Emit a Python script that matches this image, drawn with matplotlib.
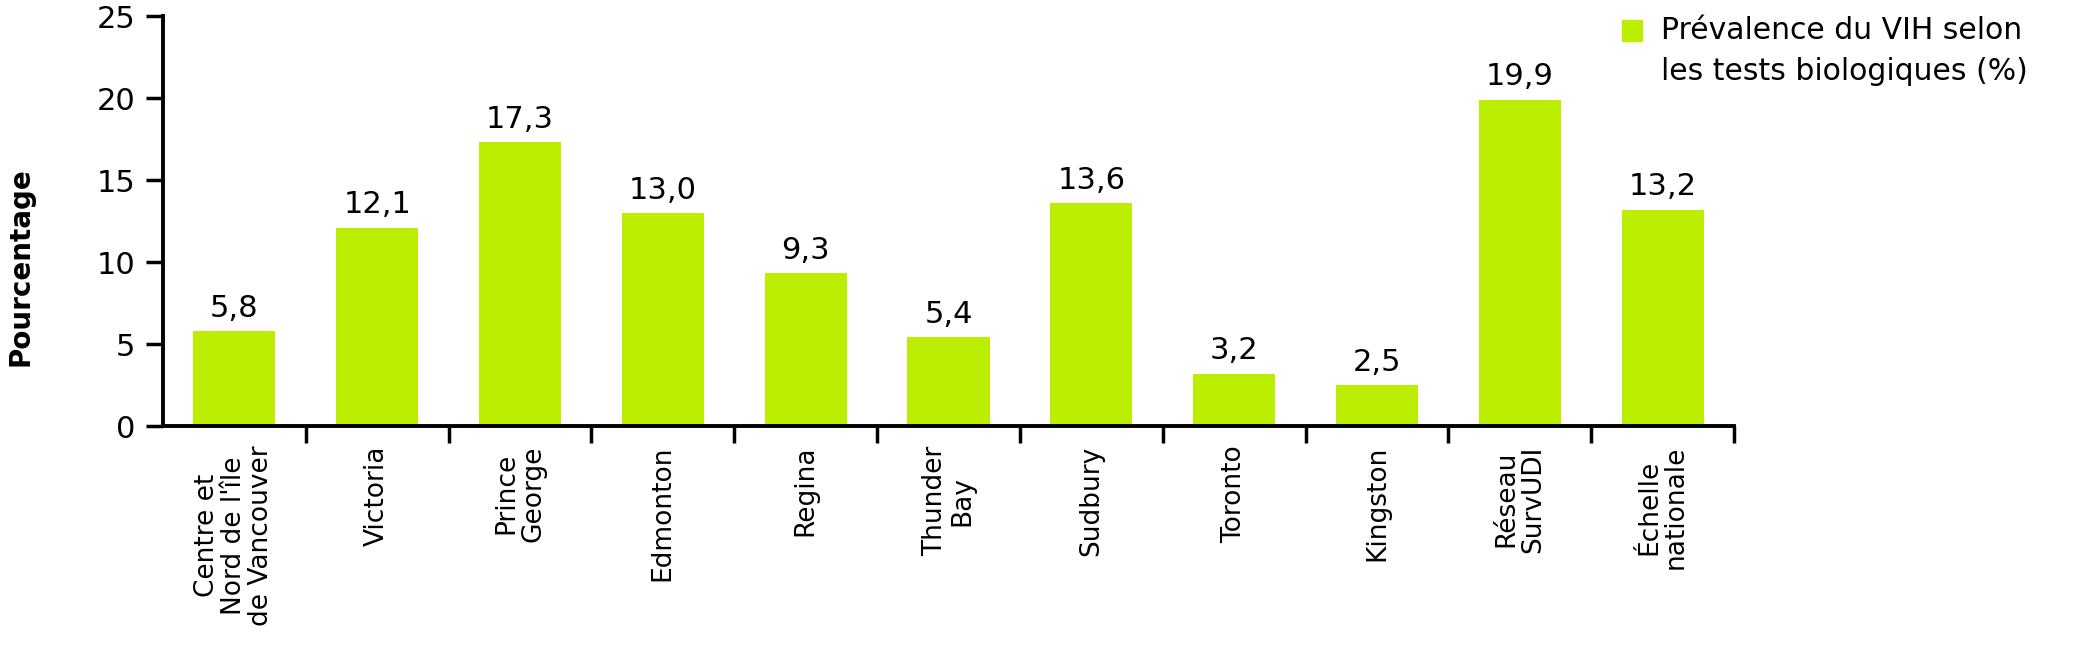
import matplotlib
matplotlib.use("Agg")
import matplotlib.pyplot as plt
from matplotlib.patches import Rectangle
import numpy as np

# data
sites = ["Centre et\nNord de l'île\nde Vancouver", "Victoria", "Prince\nGeorge",
         "Edmonton", "Regina", "Thunder\nBay", "Sudbury", "Toronto",
         "Kingston", "Réseau\nSurvUDI", "Échelle\nnationale"]
prevalence = [5.8, 12.1, 17.3, 13.0, 9.3, 5.4, 13.6, 3.2, 2.5, 19.9, 13.2]
yticks = [0, 5, 10, 15, 20, 25]
series_label = "Prévalence du VIH selon\nles tests biologiques (%)"
bar_color = '#BBEE00'

plt.rcParams['font.family'] = ['DejaVu Sans']

W, H = 2096, 650
fig = plt.figure(figsize=(W / 100, H / 100), dpi=100)
ax = fig.add_axes([163 / W, 1 - 426 / H, (1734 - 163) / W, (426 - 16) / H])

x = np.arange(len(sites))
ax.bar(x, prevalence, width=0.575, color=bar_color)

# value labels above bars
for xi, v in zip(x, prevalence):
    ax.text(xi, v + 0.5, f"{v:.1f}".replace('.', ','), ha='center', va='bottom',
            fontsize=22)

ax.set_xlim(-0.5, len(sites) - 0.5)
ax.set_ylim(0, 25)
ax.set_yticks(yticks)
ax.set_yticklabels([str(t) for t in yticks], fontsize=22)

# category labels centred, ticks on the boundaries
ax.set_xticks(x)
ax.set_xticklabels(sites, rotation=90, fontsize=19, linespacing=1.05, va='top')
ax.tick_params(axis='x', which='major', length=0, pad=14)
ax.set_xticks(np.arange(0.5, len(sites), 1), minor=True)
ax.tick_params(axis='x', which='minor', length=12, width=2.5, direction='out')
ax.tick_params(axis='y', length=12, width=2.5, direction='out', pad=8)

for side in ['top', 'right']:
    ax.spines[side].set_visible(False)
for side in ['left', 'bottom']:
    ax.spines[side].set_linewidth(2.8)

ax.set_ylabel('Pourcentage', fontsize=20, fontweight='bold')
ax.yaxis.set_label_coords(-0.082, 0.388)

# legend: square key aligned with the first line of the label
fig.patches.append(Rectangle((1622 / W, 1 - 41 / H), 20 / W, 21 / H,
                             transform=fig.transFigure, color=bar_color))
fig.text(1661 / W, 1 - 16 / H, series_label, fontsize=21.5, va='top',
         ha='left', linespacing=1.5)

fig.savefig('out.png', dpi=100)
